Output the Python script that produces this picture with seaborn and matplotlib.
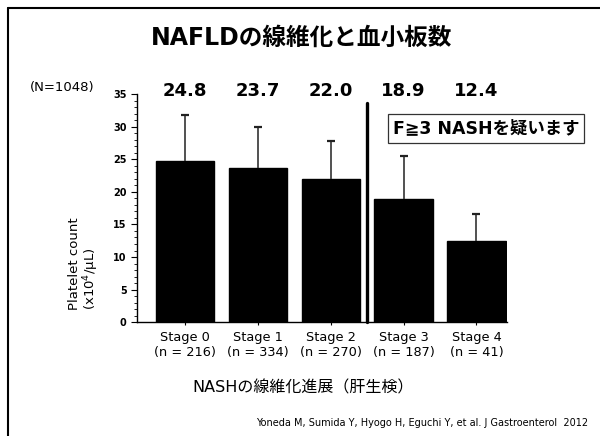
"""
NAFLD fibrosis stage vs platelet count (bar chart with SD)
"""

import matplotlib
matplotlib.use("Agg")
import matplotlib.pyplot as plt
from matplotlib.lines import Line2D
from matplotlib.ticker import MultipleLocator
import pandas as pd
import seaborn as sns

stages = ["Stage 0", "Stage 1", "Stage 2", "Stage 3", "Stage 4"]
n_counts = [216, 334, 270, 187, 41]
platelet_mean = [24.8, 23.7, 22.0, 18.9, 12.4]
platelet_sd = [7.0, 6.2, 5.8, 6.6, 4.2]

sns.set_theme(style="white")
plt.rcParams['font.family'] = ['DejaVu Sans', 'Noto Sans CJK JP']
plt.rcParams.update({'text.color': 'black', 'axes.labelcolor': 'black',
                     'xtick.color': 'black', 'ytick.color': 'black'})

df = pd.DataFrame({
    'label': [f"{s}\n(n = {n})" for s, n in zip(stages, n_counts)],
    'mean': platelet_mean,
    'sd': platelet_sd,
})
df['upper'] = df['mean'] + df['sd']

fig = plt.figure(figsize=(6, 4.36), dpi=100)
ax = fig.add_axes([0.2283, 0.2608, 0.6167, 0.5236])

sns.barplot(x='label', y='mean', data=df, color='black', width=0.8,
            edgecolor='black', ax=ax)
# upper SD only: whisker from bar top plus a cap
xs = list(range(len(df)))
ax.vlines(xs, df['mean'], df['upper'], color='#333333', lw=1.2)
ax.plot(xs, df['upper'], ls='none', marker='_', ms=6, mew=1.6, color='#222222')

# value labels above the bars
for i, v in enumerate(df['mean']):
    ax.text(i, 35.4, f"{v:.1f}", ha='center', va='center', fontsize=13,
            fontweight='bold', clip_on=False)

# divider between stage 2 and 3
ax.plot([2.5, 2.5], [0, 33.6], color='black', lw=2.4, clip_on=False, zorder=3)

ax.set_xlim(-0.66, 4.42)
ax.set_ylim(0, 35)
ax.yaxis.set_major_locator(MultipleLocator(5))
ax.yaxis.set_minor_locator(MultipleLocator(1))
ax.tick_params(axis='y', which='major', left=True, length=4, width=0.8,
               labelsize=7)
ax.tick_params(axis='y', which='minor', left=True, length=2, width=0.6)
ax.tick_params(axis='x', bottom=True, length=2, width=0.8, labelsize=9.3, pad=4)
for lab in ax.get_yticklabels():
    lab.set_fontweight('bold')
ax.set_xlabel('')
ax.set_ylabel('')
for s in ['top', 'right']:
    ax.spines[s].set_visible(False)
for s in ['left', 'bottom']:
    ax.spines[s].set_color('black')
    ax.spines[s].set_linewidth(1.0)

# texts around the axes
fig.text(0.503, 1 - 38 / 436, "NAFLDの線維化と血小板数", ha='center', va='center',
         fontsize=17, fontweight='bold')
fig.text(62 / 600, 1 - 87 / 436, "(N=1048)", ha='center', va='center', fontsize=9.5)
fig.text(75 / 600, 1 - 310 / 436, "Platelet count", rotation=90, ha='center',
         va='bottom', fontsize=9.5)
fig.text(91 / 600, 1 - 310 / 436, "(x10$^{4}$/μL)", rotation=90, ha='center',
         va='bottom', fontsize=9.5)
fig.text(303 / 600, 1 - 388 / 436, "NASHの線維化進展（肝生検）", ha='center',
         va='center', fontsize=11.5)
fig.text(588 / 600, 1 - 423 / 436,
         "Yoneda M, Sumida Y, Hyogo H, Eguchi Y, et al. J Gastroenterol  2012",
         ha='right', va='center', fontsize=7)
fig.text(486 / 600, 1 - 128.5 / 436, "F≧3 NASHを疑います", ha='center', va='center',
         fontsize=12.5, fontweight='bold',
         bbox=dict(boxstyle='square,pad=0.3', fc='white', ec='#333333', lw=0.9))

# slide frame
fig.add_artist(Line2D([8 / 600, 1.0], [1 - 8 / 436, 1 - 8 / 436],
                      transform=fig.transFigure, color='black', lw=1.5))
fig.add_artist(Line2D([8 / 600, 8 / 600], [0.0, 1 - 8 / 436],
                      transform=fig.transFigure, color='black', lw=1.5))

fig.savefig('out.png', dpi=100)
